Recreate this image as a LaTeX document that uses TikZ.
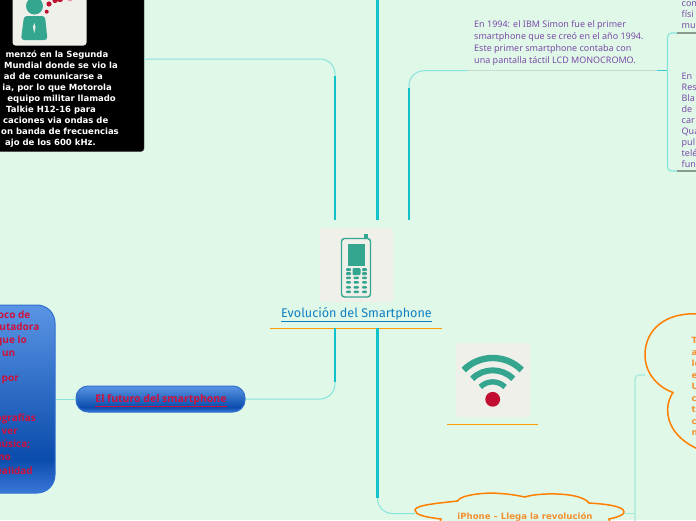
\documentclass[tikz,border=0pt]{standalone}
\usepackage{fontspec}
\setmainfont{Noto Sans}
\newfontfamily\dejabold{DejaVu Sans}
\newfontfamily\opensans{Open Sans}
\newfontfamily\firasans{Fira Sans}
\definecolor{mapbg}{HTML}{E0F8E8}
\definecolor{stem}{HTML}{12C2CA}
\definecolor{twig}{HTML}{86E4DA}
\definecolor{pale}{HTML}{A4EADC}
\definecolor{greyline}{HTML}{C6DCCE}
\definecolor{cloudor}{HTML}{FF8000}
\definecolor{cloudtx}{HTML}{F29030}
\definecolor{barline}{HTML}{FF9C00}
\definecolor{icongreen}{HTML}{34A58F}
\definecolor{iconbg}{HTML}{F0F0EB}
\definecolor{iconred}{HTML}{C00F30}
\definecolor{purpletx}{HTML}{7A4CA8}
\definecolor{titleblue}{HTML}{0F7FC2}
\definecolor{redtx}{HTML}{D0103A}
\definecolor{bartop}{HTML}{5A94E4}
\definecolor{bardark}{HTML}{0A4CAC}
\definecolor{barlow}{HTML}{3A78D8}
\definecolor{barrim}{HTML}{2E6FD0}
\pgfdeclareverticalshading{bluebar}{100bp}{
  color(0bp)=(barlow);
  color(25bp)=(barlow);
  color(34bp)=(bardark);
  color(75bp)=(bartop);
  color(100bp)=(bartop)}
\usetikzlibrary{positioning}

\begin{document}
\begin{tikzpicture}[x=1pt, y=-1pt,
  thk/.style={line width=2.2pt, stem},
  thn/.style={line width=1pt, twig, rounded corners=15pt},
  iconbox/.style={fill=iconbg, rounded corners=3pt},
  uline/.style={line width=1pt, barline},
  blk/.style={anchor=east, text=white, font=\dejabold\bfseries\fontsize{8.5}{8.5}\selectfont, inner sep=0pt},
  blu/.style={anchor=east, text=redtx, font=\opensans\bfseries\fontsize{10}{10}\selectfont, inner sep=0pt},
  prp/.style={anchor=north west, align=left, text=purpletx, inner sep=0pt},
  bar/.style={draw=barrim, line width=1pt, shading=bluebar}]
\useasboundingbox (0,0) rectangle (696,520);
\clip (0,0) rectangle (696,520);
\fill[mapbg] (0,0) rectangle (696,520);
% anchor points of the connectors
\coordinate (rootA) at (335,220);
\coordinate (rootB) at (377.5,220);
\coordinate (rootC) at (409,220);
\coordinate (rootD) at (335,328);
\coordinate (rootE) at (377.5,328);
\coordinate (offtop) at (377.5,-2);
\coordinate (simon) at (467,70.7);
\coordinate (simonr) at (657,70.7);
\coordinate (brk) at (667.5,70.7);
\coordinate (brkt) at (696,33);
\coordinate (brkb) at (696,171);
\coordinate (cloudr) at (645,375);
\coordinate (offbot) at (635,522);
% black box top left
\node[draw=black!70, fill=black, rounded corners=3pt, minimum width=164pt, minimum height=172pt, inner sep=0pt] (blackbox) at (62,65.5) {};
\node[iconbox, minimum width=74pt, minimum height=66pt] (personbg) at (49.5,12.5) {};
\fill[icongreen] (34.5,6) circle (8.5);
\fill[icongreen, rounded corners=3pt] (24,16) -- (45,16) -- (47.5,40) -- (21,40) -- cycle;
\fill[iconbg] (34.3,23) -- (35.5,27) -- (34.3,33) -- (33,27) -- cycle;
\fill[iconred] (46.7,11.7) circle (2) (49,4) circle (2.6) (55,0.5) circle (2.6) (60,-1) circle (3.2);
\fill[iconred!40] (70,-1) circle (2.5);
\node[blk] (bk1) at (108.5,54.8) {menzó en la Segunda};
\node[blk] (bk2) at (118,65.8) {Mundial donde se vio la};
\node[blk] (bk3) at (103,76.8) {ad de comunicarse a};
\node[blk] (bk4) at (112,87.8) {ia, por lo que Motorola};
\node[blk] (bk5) at (116,98.8) {equipo militar llamado};
\node[blk] (bk6) at (96,109.8) {Talkie H12-16 para};
\node[blk] (bk7) at (108.5,120.8) {caciones via ondas de};
\node[blk] (bk8) at (119,131.8) {on banda de frecuencias};
\node[blk] (bk9) at (96,142.8) {ajo de los 600 kHz.};
% connectors on top
\draw[thn] (rootA) -- (335,59) -- (blackbox.east |- 0,59);
\draw[thk] (rootA) -- (335,76);
\draw[thk] (rootB) -- (offtop);
\draw[thn] (rootC) -- (409,70.7) -- (simon);
\draw[thk] (rootC) -- (409,88);
\draw[line width=1.4pt, greyline] (simon) -- (simonr);
\draw[line width=1.4pt, stem!70!twig] (simonr) -- (brk);
\draw[thn, line width=1.1pt, rounded corners=4pt] (brkt) -- (667.5,33) -- (667.5,171) -- (brkb);
\draw[line width=1.4pt, black!30!greyline] (677,33) -- (brkt);
\draw[line width=1.4pt, black!30!greyline] (677,171) -- (brkb);
% root
\node[iconbox, minimum width=73pt, minimum height=74pt] (rooticon) at (356.5,265) {};
\draw[icongreen, line width=1.4pt, rounded corners=3pt] (341.5,238.5) rectangle (370.5,297);
\fill[icongreen] (364,234) rectangle (368,238);
\fill[icongreen] (348,243.5) rectangle (365,266);
\fill[icongreen, rounded corners=1pt] (346,268) rectangle (351,271) (346,272) rectangle (351,275)
  (362,268) rectangle (367,271) (362,272) rectangle (367,275) (352.5,268) rectangle (360.5,275)
  (346,276.5) rectangle (351,279) (353.5,276.5) rectangle (359,279) (362,276.5) rectangle (367,279)
  (346,281) rectangle (351,283.5) (353.5,281) rectangle (359,283.5) (362,281) rectangle (367,283.5)
  (346,286) rectangle (351,288.5) (353.5,286) rectangle (359,288.5) (362,286) rectangle (367,288.5)
  (346,290.5) rectangle (351,293) (353.5,290.5) rectangle (359,293) (362,290.5) rectangle (367,293);
\node[text=titleblue, font=\firasans\fontsize{12.6}{12.6}\selectfont, inner sep=0pt] (root) at (356.5,314.5) {\underline{Evolución del Smartphone}};
\draw[uline] (270,328.3) -- (442,328.3);
% texts on the right
\node[prp, font=\fontsize{9}{12}\selectfont] (simontx) at (474,20.5) {En 1994: el IBM Simon fue el primer\\smartphone que se creó en el año 1994.\\Este primer smartphone contaba con\\una pantalla táctil LCD MONOCROMO.};
\node[prp, font=\fontsize{9}{11}\selectfont] (edgetx) at (681.5,1.5) {con\\físi\\mu};
\node[prp, font=\fontsize{9}{11}\selectfont] (bbtx) at (681.5,72.5) {En\\Res\\Bla\\de\\car\\Qua\\pul\\telé\\fun};
% future branch
\node[bar, rounded corners=18pt, minimum width=85pt, minimum height=188pt, inner sep=0pt] (futbox) at (12.5,399) {};
\node[blu] (fb1) at (30.5,314.7) {oco de};
\node[blu] (fb2) at (39.5,327.7) {putadora};
\node[blu] (fb3) at (27,340.7) {que lo};
\node[blu] (fb4) at (15.5,353.7) {un};
\node[blu] (fb5) at (19,379.7) {por};
\node[blu] (fb6) at (36,418.7) {ografías};
\node[blu] (fb7) at (18,431.7) {ver};
\node[blu] (fb8) at (30.5,444.7) {música;};
\node[blu] (fb9) at (11,457.7) {mo};
\node[blu] (fb10) at (33,470.7) {ealidad};
\node[bar, rounded corners=12pt, minimum width=169pt, minimum height=26pt, inner sep=0pt] (fut) at (160.5,399) {};
\node[text=redtx, font=\opensans\bfseries\fontsize{10.5}{10.5}\selectfont, inner sep=0pt] (futtx) at (161,400.5) {\underline{El futuro del smartphone}};
\draw[thn] (rootD) -- (335,399) -- (fut.east);
\draw[thk] (rootD) -- (335,382);
\draw[line width=1pt, twig] (fut.west) -- (futbox.east |- fut.west);
% wifi
\node[iconbox, minimum width=74pt, minimum height=74pt] (wifibg) at (493,380) {};
\draw[icongreen, line width=6.4pt] (463.7,370) arc[start angle=-135, end angle=-45, radius=41];
\draw[icongreen, line width=6pt] (472.2,378.8) arc[start angle=-135, end angle=-45, radius=29];
\draw[icongreen, line width=5.4pt] (480.3,387) arc[start angle=-135, end angle=-45, radius=17.5];
\fill[iconred] (492.7,399.3) circle (7.4);
\draw[uline] (447,424) -- (538,424);
% clouds
\draw[cloudor, line width=1.5pt, fill=mapbg] (437,530) -- (441,519) .. controls (425,517) and (415,515) .. (415,510) .. controls (415,505) and (440,503) .. (457.5,501) .. controls (460,495) and (485,492) .. (500,493.5) .. controls (510,494) and (520,496) .. (525,497) .. controls (535,493) and (580,491) .. (589,503) .. controls (605,504) and (624,506) .. (624,512) .. controls (624,515) and (618,517) .. (609,519) -- (612,530) -- cycle;
\coordinate (cloudl) at (415,513.5);
\coordinate (cloudre) at (624,513.5);
\node[text=cloudtx, font=\dejabold\bfseries\fontsize{8.6}{8.6}\selectfont, inner sep=0pt] (iphone) at (525,517) {iPhone – Llega la revolución};
\draw[thn] (rootE) -- (377.5,513.5) -- (cloudl);
\draw[thk] (rootE) -- (377.5,498);
\draw[line width=1.2pt, pale, rounded corners=4pt] (cloudr) -- (635,375) -- (offbot);
\draw[line width=1.4pt, pale] (cloudre) -- (635,513.5);
\draw[cloudor, line width=1.5pt] (698,314) .. controls (665,312) and (645,330) .. (645,355) .. controls (645,375) and (660,388) .. (673,392.5) .. controls (668,400) and (667,408) .. (668,415) .. controls (670,430) and (682,442) .. (698,449);
\node[prp, text=cloudtx, font=\dejabold\bfseries\fontsize{8.6}{11.5}\selectfont] (tetx) at (691.5,337.5) {T\\a\\le\\e\\U\\c\\te\\c\\n};
\end{tikzpicture}
\end{document}
